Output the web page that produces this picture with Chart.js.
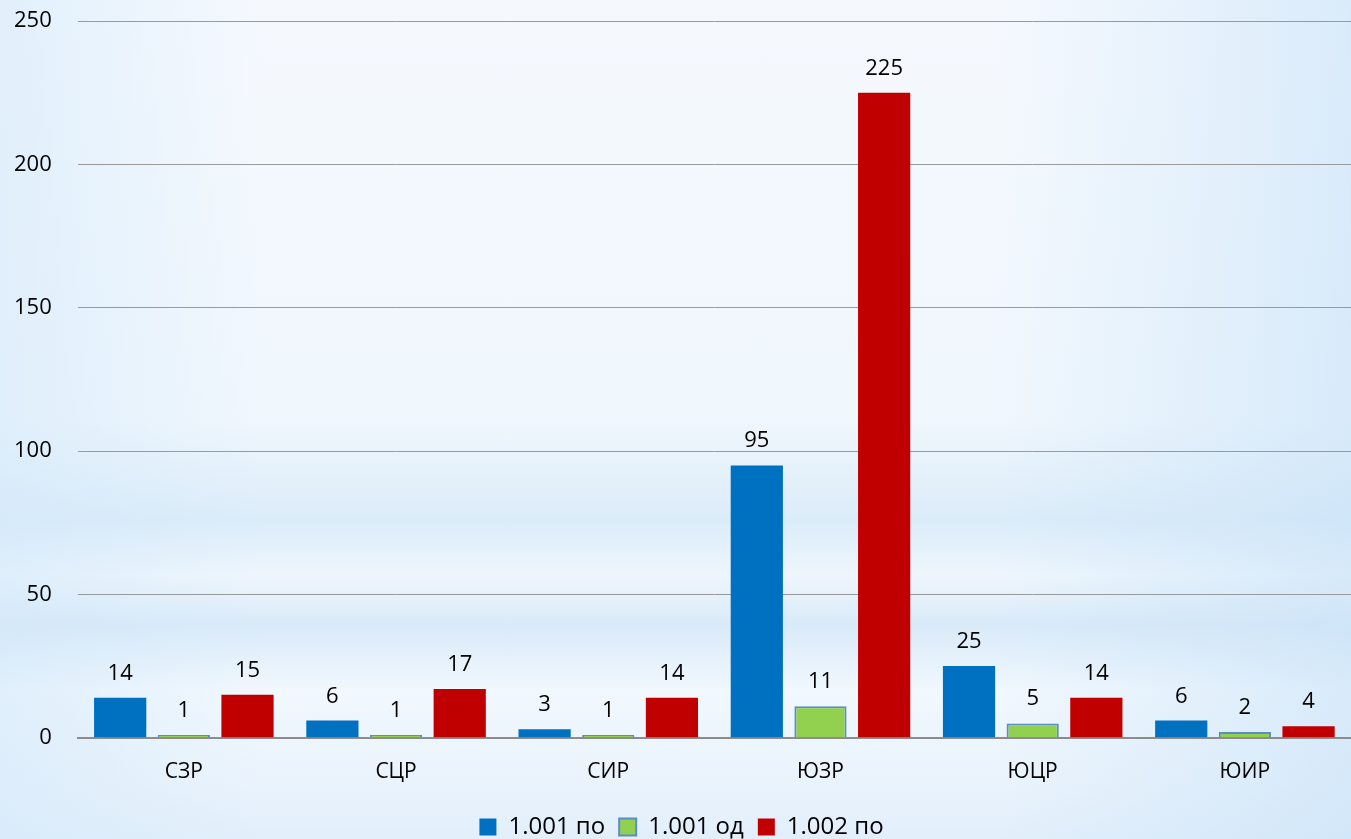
<!DOCTYPE html>
<html>
<head>
<meta charset="utf-8">
<script src="https://cdn.jsdelivr.net/npm/chart.js@4"></script>
<style>
  html, body { margin: 0; padding: 0; }
  body {
    width: 1351px; height: 839px; overflow: hidden;
    background:
      linear-gradient(to right, rgba(210,232,250,0.55) 0px, rgba(255,255,255,0) 260px, rgba(255,255,255,0) 1000px, rgba(200,226,248,0.6) 1351px),
      linear-gradient(to bottom, #f5f9fe 0px, #f0f7fd 420px, #dbecf9 520px, #eef6fd 575px, #d9eaf8 625px, #f1f8fe 690px, #eaf3fc 780px, #e2effb 839px);
  }
  canvas { display: block; }
</style>
</head>
<body>
<canvas id="chartjs-0" width="1351" height="839"></canvas>
<script>
var regions = ["СЗР", "СЦР", "СИР", "ЮЗР", "ЮЦР", "ЮИР"];
var series1 = [14, 6, 3, 95, 25, 6];     // 1.001 по
var series2 = [1, 1, 1, 11, 5, 2];       // 1.001 од
var series3 = [15, 17, 14, 225, 14, 4];  // 1.002 по
var yTicks = [0, 50, 100, 150, 200, 250];

var fontName = "'Open Sans', 'Noto Sans', sans-serif";

// value labels above each bar
var valueLabels = {
    id: "valueLabels",
    afterDatasetsDraw: function (chart) {
        var ctx = chart.ctx;
        ctx.save();
        ctx.font = "22px " + fontName;
        ctx.fillStyle = "#000";
        ctx.textAlign = "center";
        ctx.textBaseline = "alphabetic";
        chart.data.datasets.forEach(function (ds, i) {
            var meta = chart.getDatasetMeta(i);
            meta.data.forEach(function (bar, j) {
                ctx.fillText(ds.data[j], bar.x, bar.y - 18);
            });
        });
        ctx.restore();
    }
};

var ctx0 = document.getElementById("chartjs-0");
var myChart = new Chart(ctx0, {
    type: "bar",
    data: {
        labels: regions,
        datasets: [
            { label: "1.001 по", data: series1, backgroundColor: "#0070c0", borderColor: "#0070c0", borderWidth: 0 },
            { label: "1.001 од", data: series2, backgroundColor: "#92d050", borderColor: "#5b8cc8", borderWidth: 2 },
            { label: "1.002 по", data: series3, backgroundColor: "#c00000", borderColor: "#c00000", borderWidth: 0 }
        ]
    },
    options: {
        responsive: false,
        animation: false,
        layout: { padding: { left: 12, right: 0, top: 21, bottom: -10 } },
        datasets: { bar: { categoryPercentage: 0.9, barPercentage: 0.82 } },
        plugins: {
            tooltip: { enabled: false },
            legend: {
                position: "bottom",
                labels: {
                    font: { family: fontName, size: 24 },
                    color: "#000",
                    boxWidth: 17,
                    boxHeight: 17,
                    padding: 14
                }
            }
        },
        scales: {
            x: {
                grid: { display: false, drawTicks: false },
                border: { display: true, color: "#8c8c8c", width: 2 },
                ticks: { font: { family: fontName, size: 21 }, color: "#000", padding: 22, maxRotation: 0 },
                afterFit: function (scale) { scale.height -= 6; }
            },
            y: {
                min: 0,
                max: 250,
                afterBuildTicks: function (scale) {
                    scale.ticks = yTicks.map(function (v) { return { value: v }; });
                },
                grid: { color: "#9a9a9a", lineWidth: 1, drawTicks: true, tickLength: 24, tickColor: "rgba(0,0,0,0)" },
                border: { display: false },
                ticks: { font: { family: fontName, size: 22 }, color: "#000", padding: 2 }
            }
        }
    },
    plugins: [valueLabels]
});
</script>
</body>
</html>
